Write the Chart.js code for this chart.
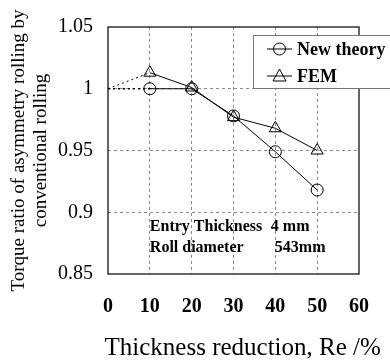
<!DOCTYPE html>
<html>
<head>
<meta charset="utf-8">
<script src="https://cdn.jsdelivr.net/npm/chart.js@4/dist/chart.umd.min.js"></script>
<style>
html,body{margin:0;padding:0;background:#fff;}
#wrap{width:390px;height:360px;position:relative;}
</style>
</head>
<body>
<div id="wrap"><canvas id="c" width="390" height="360"></canvas></div>
<script>
// ---- data ----
const reductions = [10, 20, 30, 40, 50];
const newTheory = [1.000, 1.000, 0.978, 0.949, 0.918];
const fem = [1.013, 1.001, 0.977, 0.968, 0.950];
const extX = [0, 10];
const newTheoryExt = [1.000, 1.000];
const femExt = [1.000, 1.013];
const seriesNames = ['New theory', 'FEM'];
const xTicks = [0, 10, 20, 30, 40, 50, 60];
const yTickLabels = {1.05: '1.05', 1: '1', 0.95: '0.95', 0.9: '0.9', 0.85: '0.85'};
const xTitle = 'Thickness reduction, Re /%';
const yTitle = ['Torque ratio of asymmetry rolling by', 'conventional rolling'];
const noteRows = [['Entry Thickness', '4 mm'], ['Roll diameter', '543mm']];

const pts = (xs, ys) => xs.map((x, i) => ({x: x, y: ys[i]}));
const SERIF = "'Liberation Serif', 'Times New Roman', serif";

const framePlugin = {
  id: 'frame',
  afterDatasetsDraw(chart) {
    const {ctx, chartArea: a} = chart;
    ctx.save();
    ctx.strokeStyle = '#000';
    ctx.lineWidth = 1.2;
    ctx.strokeRect(a.left, a.top, a.right - a.left, a.bottom - a.top);
    // notes
    ctx.fillStyle = '#000';
    ctx.font = 'bold 16px ' + SERIF;
    ctx.textBaseline = 'middle';
    ctx.textAlign = 'left';
    const xs = chart.scales.x;
    const ys = chart.scales.y;
    const x0 = xs.getPixelForValue(10);
    const rowY = [ys.getPixelForValue(0.8885), ys.getPixelForValue(0.871)];
    ctx.fillText(noteRows[0][0], x0, rowY[0]);
    ctx.fillText(noteRows[0][1], x0 + 121, rowY[0]);
    ctx.fillText(noteRows[1][0], x0, rowY[1]);
    ctx.fillText(noteRows[1][1], x0 + 125, rowY[1]);
    // legend
    const lx = 253, ly = 35, lh = 53;
    ctx.fillStyle = '#fff';
    ctx.fillRect(lx, ly, 200, lh);
    ctx.strokeStyle = '#777';
    ctx.lineWidth = 1;
    ctx.strokeRect(lx + 0.5, ly + 0.5, 200, lh);
    const rows = [ly + 14, ly + 41];
    const styles = ['circle', 'triangle'];
    ctx.font = 'bold 18px ' + SERIF;
    for (let i = 0; i < 2; i++) {
      const y = rows[i];
      ctx.strokeStyle = '#000';
      ctx.lineWidth = 1;
      ctx.beginPath();
      ctx.moveTo(267, y);
      ctx.lineTo(292, y);
      ctx.stroke();
      ctx.beginPath();
      if (styles[i] === 'circle') {
        ctx.arc(279.5, y, 6, 0, Math.PI * 2);
      } else {
        ctx.moveTo(279.5, y - 7);
        ctx.lineTo(286, y + 5);
        ctx.lineTo(273, y + 5);
        ctx.closePath();
      }
      ctx.stroke();
      ctx.fillStyle = '#000';
      ctx.fillText(seriesNames[i], 297, y + 1);
    }
    // x axis title
    ctx.font = '25px ' + SERIF;
    ctx.textAlign = 'center';
    ctx.textBaseline = 'alphabetic';
    ctx.fillText(xTitle, xs.getPixelForValue(32.2), 355);
    ctx.restore();
  }
};

const gridColor = (min, max) => (c) => {
  const v = c.tick ? c.tick.value : null;
  if (v === null) return 'rgba(0,0,0,0)';
  if (Math.abs(v - min) < 1e-9 || Math.abs(v - max) < 1e-9) return 'rgba(0,0,0,0)';
  return '#8a8a8a';
};

new Chart(document.getElementById('c'), {
  type: 'scatter',
  data: {
    datasets: [
      {
        label: seriesNames[0],
        data: pts(reductions, newTheory),
        showLine: true,
        borderColor: '#000',
        borderWidth: 1,
        backgroundColor: 'rgba(0,0,0,0)',
        pointStyle: 'circle',
        pointRadius: 6,
        pointBorderWidth: 1,
        pointBorderColor: '#000',
        pointBackgroundColor: 'rgba(0,0,0,0)'
      },
      {
        label: seriesNames[1],
        data: pts(reductions, fem),
        showLine: true,
        borderColor: '#000',
        borderWidth: 1,
        backgroundColor: 'rgba(0,0,0,0)',
        pointStyle: 'triangle',
        pointRadius: 7,
        pointBorderWidth: 1,
        pointBorderColor: '#000',
        pointBackgroundColor: 'rgba(0,0,0,0)'
      },
      {
        label: 'ext1',
        data: pts(extX, newTheoryExt),
        showLine: true,
        borderColor: '#000',
        borderWidth: 1.3,
        borderDash: [2, 3],
        pointRadius: 0
      },
      {
        label: 'ext2',
        data: pts(extX, femExt),
        showLine: true,
        borderColor: '#000',
        borderWidth: 1,
        borderDash: [2, 3],
        pointRadius: 0
      }
    ]
  },
  options: {
    responsive: false,
    animation: false,
    devicePixelRatio: 1,
    layout: {padding: {top: 25, right: 17, left: 0, bottom: 0}},
    plugins: {legend: {display: false}, tooltip: {enabled: false}},
    scales: {
      x: {
        type: 'linear',
        min: 0, max: 60,
        afterBuildTicks: (s) => { s.ticks = xTicks.map(v => ({value: v})); },
        afterFit: (s) => { s.height = 86; },
        grid: {color: gridColor(0, 60), drawTicks: false, lineWidth: 1},
        border: {display: false, dash: [3, 3]},
        ticks: {
          color: '#000',
          padding: 21,
          maxRotation: 0,
          font: {family: SERIF, size: 20, weight: 'bold'},
          callback: (v) => String(v)
        },
        title: {display: false, text: xTitle}
      },
      y: {
        type: 'linear',
        min: 0.85, max: 1.05,
        afterBuildTicks: (s) => { s.ticks = Object.keys(yTickLabels).map(Number).sort((a, b) => a - b).map(v => ({value: v})); },
        afterFit: (s) => { s.width = 108; },
        grid: {color: gridColor(0.85, 1.05), drawTicks: false, lineWidth: 1},
        border: {display: false, dash: [3, 3]},
        ticks: {
          color: '#000',
          padding: 15,
          font: {family: SERIF, size: 20},
          callback: (v) => yTickLabels[Math.round(v * 100) / 100] || ''
        },
        title: {
          display: true,
          text: yTitle,
          color: '#000',
          font: {family: SERIF, size: 19, lineHeight: 1.16},
          padding: {top: 8, bottom: 0}
        }
      }
    }
  },
  plugins: [framePlugin]
});
</script>
</body>
</html>
